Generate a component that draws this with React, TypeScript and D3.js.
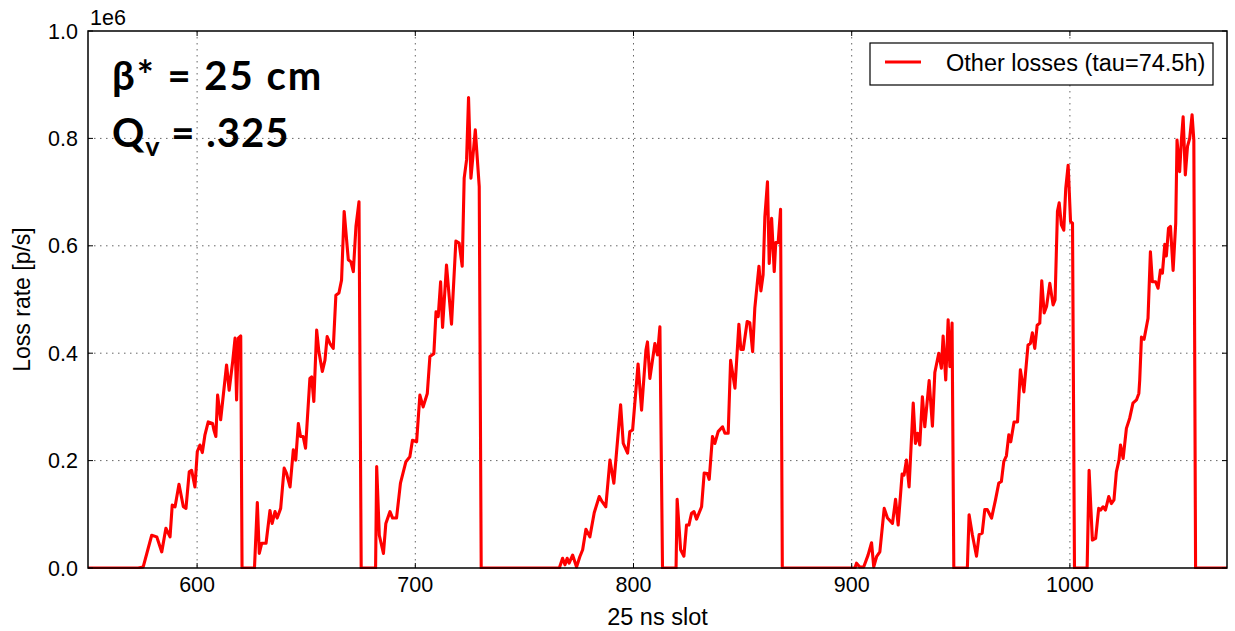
import React from 'react';
import * as d3 from 'd3';

// ---- data (loss rate in units of 1e6 p/s, per 25 ns slot) ----
const xDomain: [number, number] = [550, 1072];
const yDomain: [number, number] = [0, 1.0];
const xTicks = [600, 700, 800, 900, 1000];
const yTicks = [0, 0.2, 0.4, 0.6, 0.8, 1.0];
const yOffsetLabel = '1e6';
const xLabel = '25 ns slot';
const yLabel = 'Loss rate [p/s]';
const legendLabel = 'Other losses (tau=74.5h)';
const noteLine1 = 'β* = 25 cm';
const noteLine2Main = 'Q';
const noteLine2Sub = 'v';
const noteLine2Rest = ' = .325';

const train1: [number, number][] = [
  [573, 0], [575.3, 0.002], [579.2, 0.061], [581.5, 0.058], [583.8, 0.03], [585.7, 0.074], [587.6, 0.058],
  [588.6, 0.117], [589.9, 0.114], [591.7, 0.156], [593.7, 0.114], [594.9, 0.111], [596.4, 0.179], [597.5, 0.182],
  [599, 0.151], [600.1, 0.217], [601.3, 0.229], [602.4, 0.215], [603.6, 0.248], [605.1, 0.272], [607.1, 0.269],
  [607.7, 0.257], [608.6, 0.245], [609.4, 0.322], [610.8, 0.276], [613.5, 0.378], [614.7, 0.331], [616.3, 0.384],
  [617.4, 0.428], [618.1, 0.313], [618.9, 0.428], [620, 0.432], [620.6, 0],
];
const train2: [number, number][] = [
  [626.3, 0], [627.6, 0.122], [628.5, 0.027], [629.6, 0.046], [631.6, 0.046], [633.4, 0.107], [634.4, 0.083],
  [635.7, 0.105], [636.7, 0.093], [638.3, 0.111], [639.9, 0.186], [641, 0.176], [642.6, 0.151], [644.1, 0.22],
  [645.2, 0.201], [646.4, 0.269], [647.4, 0.245], [648.6, 0.245], [649.7, 0.223], [651.7, 0.353], [652.5, 0.356],
  [653.5, 0.31], [654.8, 0.443], [655.8, 0.403], [657.4, 0.366], [658.6, 0.387], [659.6, 0.431], [660.9, 0.418],
  [662.4, 0.409], [663.6, 0.508], [665, 0.512], [666.2, 0.536], [667.4, 0.664], [669.3, 0.574], [670.5, 0.57],
  [671.6, 0.552], [672.8, 0.636], [674.2, 0.682], [675.2, 0],
];
const train3: [number, number][] = [
  [681.8, 0], [682.3, 0.189], [683.5, 0.061], [685.4, 0.027], [686.5, 0.083], [688.4, 0.105], [689.6, 0.093],
  [691.4, 0.093], [693.2, 0.158], [695.7, 0.198], [697.5, 0.207], [698.7, 0.238], [700.6, 0.235], [702.1, 0.322],
  [703.6, 0.3], [705.5, 0.325], [706.7, 0.394], [708.5, 0.399], [709.5, 0.477], [710.5, 0.468], [711.6, 0.533],
  [712.5, 0.448], [714.3, 0.564], [716.6, 0.454], [718.6, 0.609], [720.1, 0.605], [721.5, 0.562], [722.4, 0.726],
  [723.5, 0.76], [724.4, 0.876], [725.5, 0.726], [727.5, 0.816], [729.3, 0.71], [730.2, 0],
];
const train4: [number, number][] = [
  [766, 0], [767.5, 0.018], [768.6, 0.006], [769.6, 0.018], [770.5, 0.009], [772.1, 0.024], [773.9, 0.002],
  [775.4, 0.021], [776.7, 0.034], [778.2, 0.072], [780, 0.058], [782, 0.103], [784.3, 0.133], [785.7, 0.123],
  [787.3, 0.114], [789.2, 0.201], [791, 0.158], [794.1, 0.304], [795.3, 0.232], [797.3, 0.214], [798.3, 0.254],
  [799.6, 0.257], [802.1, 0.38], [803.7, 0.294], [805.7, 0.406], [806.4, 0.421], [807.5, 0.353], [809.8, 0.418],
  [811, 0.397], [812.1, 0.449], [813.3, 0],
];
const train5: [number, number][] = [
  [819.5, 0], [820, 0.128], [821.6, 0.034], [823.1, 0.022], [824.3, 0.08], [825.4, 0.08], [826.6, 0.102],
  [827.7, 0.105], [828.9, 0.091], [831.2, 0.114], [832.4, 0.177], [833.8, 0.176], [834.7, 0.165], [836.2, 0.245],
  [837.3, 0.232], [838.8, 0.254], [840.8, 0.263], [841.9, 0.251], [843.4, 0.251], [844.5, 0.387], [846.5, 0.335],
  [848.3, 0.454], [849.2, 0.407], [850.3, 0.407], [852.1, 0.459], [853.3, 0.457], [854.6, 0.403], [855.6, 0.484],
  [857.5, 0.562], [858.4, 0.516], [859.4, 0.546], [860.2, 0.654], [861.4, 0.719], [862.2, 0.567], [863.3, 0.651],
  [864.5, 0.552], [865.2, 0.606], [866.3, 0.606], [867.4, 0.668], [868.2, 0],
];
const train6: [number, number][] = [
  [901.5, 0], [902.2, 0.009], [903.7, 0.002], [905.5, 0.002], [907.5, 0.024], [909.1, 0.047], [910.1, 0.002],
  [911.4, 0.021], [912.9, 0.03], [914.9, 0.111], [916.4, 0.093], [918.7, 0.083], [920.1, 0.128], [921.3, 0.08],
  [923.1, 0.175], [924, 0.173], [925.1, 0.201], [926.3, 0.151], [928.2, 0.307], [929.2, 0.232], [930.2, 0.251],
  [931.2, 0.229], [932.4, 0.319], [933.5, 0.263], [935.5, 0.349], [937, 0.264], [938.1, 0.364], [939.9, 0.4],
  [941.1, 0.372], [941.9, 0.432], [943.1, 0.35], [944.2, 0.462], [945, 0.375], [946, 0.456], [946.8, 0],
];
const train7: [number, number][] = [
  [953, 0], [953.8, 0.099], [955.3, 0.062], [957.2, 0.022], [958.4, 0.062], [959.8, 0.065], [961, 0.109],
  [962.1, 0.109], [964.1, 0.093], [965.9, 0.127], [967.4, 0.158], [968.6, 0.161], [969.7, 0.198], [970.9, 0.209],
  [972, 0.248], [972.9, 0.235], [974.4, 0.272], [976, 0.272], [977.3, 0.369], [978.9, 0.328], [980.8, 0.415],
  [981.9, 0.418], [982.8, 0.438], [983.9, 0.409], [985, 0.452], [986.2, 0.456], [987.1, 0.535], [988.2, 0.475],
  [989.3, 0.487], [990.8, 0.53], [992.3, 0.49], [993.2, 0.499], [994.3, 0.664], [995.1, 0.68], [996.1, 0.639],
  [997.2, 0.629], [998.1, 0.707], [999.2, 0.75], [1000.3, 0.645], [1001.2, 0.642], [1002.1, 0],
];
const train8: [number, number][] = [
  [1007.9, 0], [1008.8, 0.182], [1010.3, 0.052], [1011.8, 0.055], [1013.2, 0.111], [1014.1, 0.108], [1015.2, 0.114],
  [1016.3, 0.108], [1017.8, 0.133], [1019, 0.12], [1020.2, 0.127], [1021.3, 0.179], [1022.5, 0.201], [1023.2, 0.229],
  [1024.4, 0.204], [1025.9, 0.26], [1027.4, 0.279], [1028.9, 0.307], [1030.5, 0.313], [1031.6, 0.325], [1032, 0.35],
  [1032.8, 0.43], [1034, 0.426], [1035.8, 0.465], [1036.9, 0.589], [1037.8, 0.533], [1039.3, 0.533], [1040.4, 0.521],
  [1041.5, 0.555], [1042.4, 0.549], [1043.5, 0.603], [1044.2, 0.581], [1045.2, 0.633], [1046.1, 0.636], [1047.3, 0.554],
  [1048.5, 0.642], [1049.1, 0.797], [1050.3, 0.738], [1051.1, 0.797], [1051.9, 0.84], [1052.9, 0.732], [1053.9, 0.785],
  [1054.9, 0.8], [1056, 0.844], [1056.8, 0.797], [1057.6, 0],
];

const trains = [train1, train2, train3, train4, train5, train6, train7, train8];

export default function App() {
  const W = 1235;
  const H = 631;
  const left = 88, right = 1227, top = 31, bottom = 568;
  const x = d3.scaleLinear().domain(xDomain).range([left, right]);
  const y = d3.scaleLinear().domain(yDomain).range([bottom, top]);
  const series: [number, number][] = [[xDomain[0], 0], ...trains.flat(), [xDomain[1], 0]];
  const line = d3.line<[number, number]>().x(d => x(d[0])).y(d => y(d[1]));
  const fmt = d3.format('.1f');
  const tickFont = '"Liberation Sans", Arial, sans-serif';
  const noteFont = 'Lato, "Open Sans", sans-serif';

  return (
    <svg width={W} height={H} style={{ position: 'absolute', left: 0, top: 0, background: '#fff' }}
      xmlns="http://www.w3.org/2000/svg">
      <defs>
        <clipPath id="plotClip">
          <rect x={left} y={top - 2} width={right - left} height={bottom - top + 3} />
        </clipPath>
      </defs>
      <rect x={0} y={0} width={W} height={H} fill="#fff" />
      {/* grid */}
      <g stroke="#666" strokeWidth={1} strokeDasharray="1.5,4.5">
        {xTicks.map(t => (
          <line key={'gx' + t} x1={x(t)} x2={x(t)} y1={top} y2={bottom} />
        ))}
        {yTicks.filter(t => t > 0 && t < 1).map(t => (
          <line key={'gy' + t} x1={left} x2={right} y1={y(t)} y2={y(t)} />
        ))}
      </g>
      {/* data line */}
      <path d={line(series) || ''} fill="none" stroke="#ff0000" strokeWidth={3.1}
        strokeLinejoin="round" clipPath="url(#plotClip)" />
      {/* ticks (inward) */}
      <g stroke="#000" strokeWidth={1}>
        {xTicks.map(t => (
          <g key={'tx' + t}>
            <line x1={x(t)} x2={x(t)} y1={bottom} y2={bottom - 5} />
            <line x1={x(t)} x2={x(t)} y1={top} y2={top + 5} />
          </g>
        ))}
        {yTicks.map(t => (
          <g key={'ty' + t}>
            <line x1={left} x2={left + 5} y1={y(t)} y2={y(t)} />
            <line x1={right} x2={right - 5} y1={y(t)} y2={y(t)} />
          </g>
        ))}
      </g>
      {/* frame */}
      <rect x={left} y={top} width={right - left} height={bottom - top} fill="none" stroke="#000" strokeWidth={1.5} />
      {/* tick labels */}
      <g fontFamily={tickFont} fontSize={21.5} fill="#000">
        {xTicks.map(t => (
          <text key={'lx' + t} x={x(t)} y={bottom + 24} textAnchor="middle">{t}</text>
        ))}
        {yTicks.map(t => (
          <text key={'ly' + t} x={left - 10} y={y(t) + 7.5} textAnchor="end">{fmt(t)}</text>
        ))}
        <text x={left + 2} y={top - 6}>{yOffsetLabel}</text>
      </g>
      {/* axis labels */}
      <text x={(left + right) / 2} y={625} textAnchor="middle" fontFamily={tickFont} fontSize={23.5}>{xLabel}</text>
      <text transform={`translate(30, ${(top + bottom) / 2}) rotate(-90)`} textAnchor="middle"
        fontFamily={tickFont} fontSize={23}>{yLabel}</text>
      {/* legend */}
      <g>
        <rect x={870} y={43} width={343} height={42} fill="#fff" stroke="#000" strokeWidth={1.2} />
        <line x1={885} x2={921} y1={62} y2={62} stroke="#ff0000" strokeWidth={3.1} />
        <text x={946} y={71} fontFamily={tickFont} fontSize={23.5}>{legendLabel}</text>
      </g>
      {/* annotation */}
      <g fontFamily={noteFont} fontWeight={700} fill="#000">
        <text x={112} y={90} fontSize={40} letterSpacing={2}>{noteLine1}</text>
        <text x={112} y={147} fontSize={40} letterSpacing={1}>
          <tspan>{noteLine2Main}</tspan>
          <tspan fontSize={27} dy={9}>{noteLine2Sub}</tspan>
          <tspan dy={-9}>{noteLine2Rest}</tspan>
        </text>
      </g>
    </svg>
  );
}
